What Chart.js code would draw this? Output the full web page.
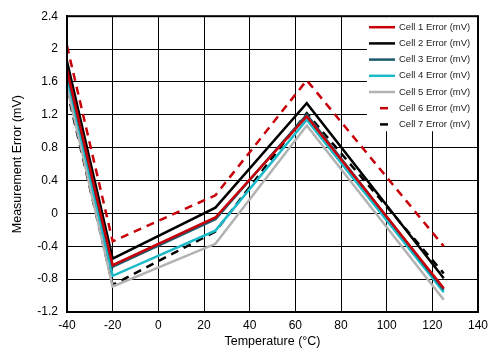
<!DOCTYPE html>
<html>
<head>
<meta charset="utf-8">
<script src="https://cdn.jsdelivr.net/npm/chart.js@4/dist/chart.umd.min.js"></script>
<style>
  html, body { margin: 0; padding: 0; background: #fff; }
  #wrap { width: 495px; height: 353px; }
</style>
</head>
<body>
<div id="wrap"><canvas id="chart" width="495" height="353"></canvas></div>
<script>
// Data
const temps = [-40, -20, 25, 65, 125];
const cell1 = [1.75, -0.63, -0.05, 1.18, -0.91];
const cell2 = [1.85, -0.55, 0.07, 1.34, -0.79];
const cell3 = [1.72, -0.65, -0.07, 1.20, -0.93];
const cell4 = [1.66, -0.76, -0.21, 1.14, -0.96];
const cell5 = [1.55, -0.89, -0.37, 1.07, -1.05];
const cell6 = [2.04, -0.34, 0.22, 1.62, -0.40];
const cell7 = [1.50, -0.87, -0.22, 1.22, -0.73];

const xTicks = [-40, -20, 0, 20, 40, 60, 80, 100, 120, 140];
const yTicks = [2.4, 2, 1.6, 1.2, 0.8, 0.4, 0, -0.4, -0.8, -1.2];

const names = ["Cell 1 Error (mV)", "Cell 2 Error (mV)", "Cell 3 Error (mV)", "Cell 4 Error (mV)",
  "Cell 5 Error (mV)", "Cell 6 Error (mV)", "Cell 7 Error (mV)"];
const colors = ["#c8000a", "#000000", "#1d5a6c", "#1cb9c9", "#b2b2b2", "#c8000a", "#000000"];
const dashes = [[], [], [], [], [], [8, 6], [8, 6]];
const series = [cell1, cell2, cell3, cell4, cell5, cell6, cell7];

const FONT = "'Liberation Sans', Arial, sans-serif";

function pts(vals) {
  return vals.map((v, i) => ({ x: temps[i], y: v }));
}

// legend drawn in the top right corner of the plot, plus the frame
const boxLegend = {
  id: "boxLegend",
  afterDraw(chart) {
    const ctx = chart.ctx;
    const a = chart.chartArea;
    const left = a.right - 111;
    ctx.save();
    ctx.fillStyle = "#fff";
    ctx.fillRect(left, a.top + 1, a.right - left - 1, 114);
    ctx.font = "9.5px " + FONT;
    ctx.textBaseline = "middle";
    for (let i = 0; i < names.length; i++) {
      const y = a.top + 11 + i * 16.2;
      ctx.strokeStyle = colors[i];
      ctx.lineWidth = 2.5;
      ctx.beginPath();
      if (dashes[i].length) {
        ctx.moveTo(left + 13, y);
        ctx.lineTo(left + 21, y);
      } else {
        ctx.moveTo(left + 2, y);
        ctx.lineTo(left + 28, y);
      }
      ctx.stroke();
      ctx.fillStyle = "#222";
      ctx.fillText(names[i], left + 32, y);
    }
    ctx.strokeStyle = "#000";
    ctx.lineWidth = 2;
    ctx.strokeRect(a.left, a.top, a.right - a.left, a.bottom - a.top);
    ctx.restore();
  }
};

new Chart(document.getElementById("chart"), {
  type: "line",
  data: {
    datasets: series.map((s, i) => ({
      label: names[i],
      data: pts(s),
      borderColor: colors[i],
      borderWidth: 2.5,
      borderDash: dashes[i],
      pointRadius: 0,
      tension: 0,
      fill: false
    }))
  },
  options: {
    responsive: false,
    animation: false,
    layout: { padding: { top: 12, right: 17, left: 10, bottom: 0 } },
    plugins: { legend: { display: false }, tooltip: { enabled: false } },
    scales: {
      x: {
        type: "linear",
        min: -40, max: 140,
        afterBuildTicks: ax => { ax.ticks = xTicks.map(v => ({ value: v })); },
        afterFit: ax => { ax.height = 41; },
        grid: { color: "#000", lineWidth: 1, drawTicks: false },
        border: { color: "#000", width: 2 },
        ticks: { color: "#000", font: { size: 12, family: FONT }, padding: 6, maxRotation: 0 },
        title: { display: true, text: "Temperature (°C)", color: "#000", font: { size: 12.5, family: FONT }, padding: { top: 0 } }
      },
      y: {
        min: -1.2, max: 2.4,
        afterBuildTicks: ax => { ax.ticks = yTicks.map(v => ({ value: v })); },
        afterFit: ax => { ax.width = 57; },
        grid: { color: "#000", lineWidth: 1, drawTicks: false },
        border: { color: "#000", width: 2 },
        ticks: { color: "#000", font: { size: 12, family: FONT }, padding: 9,
          callback: v => String(Math.round(v * 10) / 10) },
        title: { display: true, text: "Measurement Error (mV)", color: "#000", font: { size: 12.5, family: FONT }, padding: { top: 0, bottom: 0 } }
      }
    }
  },
  plugins: [boxLegend]
});
</script>
</body>
</html>
